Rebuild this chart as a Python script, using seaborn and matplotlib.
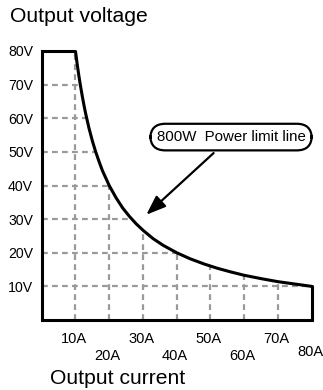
import matplotlib
matplotlib.use('Agg')
import matplotlib.pyplot as plt
from matplotlib.patches import Polygon
import seaborn as sns
import pandas as pd

# axis ticks
current_ticks = [10, 20, 30, 40, 50, 60, 70, 80]
current_labels = ['10A', '20A', '30A', '40A', '50A', '60A', '70A', '80A']
voltage_ticks = [10, 20, 30, 40, 50, 60, 70, 80]
voltage_labels = ['10V', '20V', '30V', '40V', '50V', '60V', '70V', '80V']

# 800W power limit line
curve_i = [10, 10.5, 11, 11.5, 12, 12.5, 13, 14, 15, 16, 17, 18, 20, 22, 24, 26,
           28, 30, 33, 36, 40, 44, 48, 52, 56, 60, 65, 70, 75, 80]
curve_v = [80, 76.2, 72.7, 69.6, 66.7, 64, 61.5, 57.1, 53.3, 50, 47.1, 44.4, 40,
           36.4, 33.3, 30.8, 28.6, 26.7, 24.2, 22.2, 20, 18.2, 16.7, 15.4, 14.3,
           13.3, 12.3, 11.4, 10.7, 10]

# outline of operating area
outline_i = [0, 0] + curve_i + [80]
outline_v = [0, 80] + curve_v + [0]
df = pd.DataFrame({'I': curve_i, 'V': curve_v})

sns.set_style('white')
plt.rcParams['font.family'] = ['Liberation Sans', 'DejaVu Sans']
plt.rcParams['text.color'] = 'black'

fig = plt.figure(figsize=(3.23, 3.9), dpi=100)
ax = fig.add_axes([41.7 / 323, 70 / 390, 270 / 323, 269 / 390])

# operating area: clip region for the grid
area = Polygon(list(zip(outline_i, outline_v)), closed=True,
               transform=ax.transData, facecolor='none', edgecolor='none')
ax.add_patch(area)

grid_kw = dict(color='#9a9a9a', lw=1.6, linestyles=(0, (2.6, 1.9)), zorder=1)
vl = ax.vlines(current_ticks[:-1], 0, 80, **grid_kw)
hl = ax.hlines(voltage_ticks[:-1], 0, 80, **grid_kw)
vl.set_clip_path(area)
hl.set_clip_path(area)

# power limit curve
sns.lineplot(data=df, x='I', y='V', sort=False, estimator=None, color='black',
             lw=2.2, ax=ax, zorder=3)
# remaining edges of the operating area
ax.plot([80, 80, 0, 0, 10], [10, 0, 0, 80, 80], color='black', lw=2.2,
        solid_joinstyle='miter', clip_on=False, zorder=3)

ax.set_xlim(0, 80)
ax.set_ylim(0, 80)
for s in ax.spines.values():
    s.set_visible(False)
ax.set_xlabel('')
ax.set_ylabel('')
ax.set_xticks([])
ax.set_yticks(voltage_ticks)
ax.set_yticklabels(voltage_labels, fontsize=10.2)
ax.tick_params(axis='y', length=0, pad=6.3, labelcolor='black')

# staggered current labels
for k, (c, lab) in enumerate(zip(current_ticks, current_labels)):
    if c == 80:
        dy = -23
    elif k % 2 == 0:
        dy = -13.7
    else:
        dy = -25.9
    ax.annotate(lab, xy=(c, 0), xycoords=('data', 'axes fraction'),
                xytext=(-1.2, dy), textcoords='offset points',
                ha='center', va='center', fontsize=10.5, color='black')

fig.text(10 / 323, 1 - 16 / 390, 'Output voltage', fontsize=15.2,
         ha='left', va='center', color='black')
fig.text(50 / 323, 1 - 378 / 390, 'Output current', fontsize=15.2,
         ha='left', va='center', color='black')

ax.annotate('800W  Power limit line', xy=(31, 31.3), xytext=(56.1, 54.4),
            ha='center', va='center', fontsize=10.8, color='black',
            bbox=dict(boxstyle='round,pad=0.42,rounding_size=1.0',
                      fc='white', ec='black', lw=1.6),
            arrowprops=dict(arrowstyle='-|>,head_length=0.85,head_width=0.32',
                            color='black', lw=1.6, mutation_scale=14,
                            shrinkB=0),
            zorder=5)

fig.savefig('out.png', dpi=100)
